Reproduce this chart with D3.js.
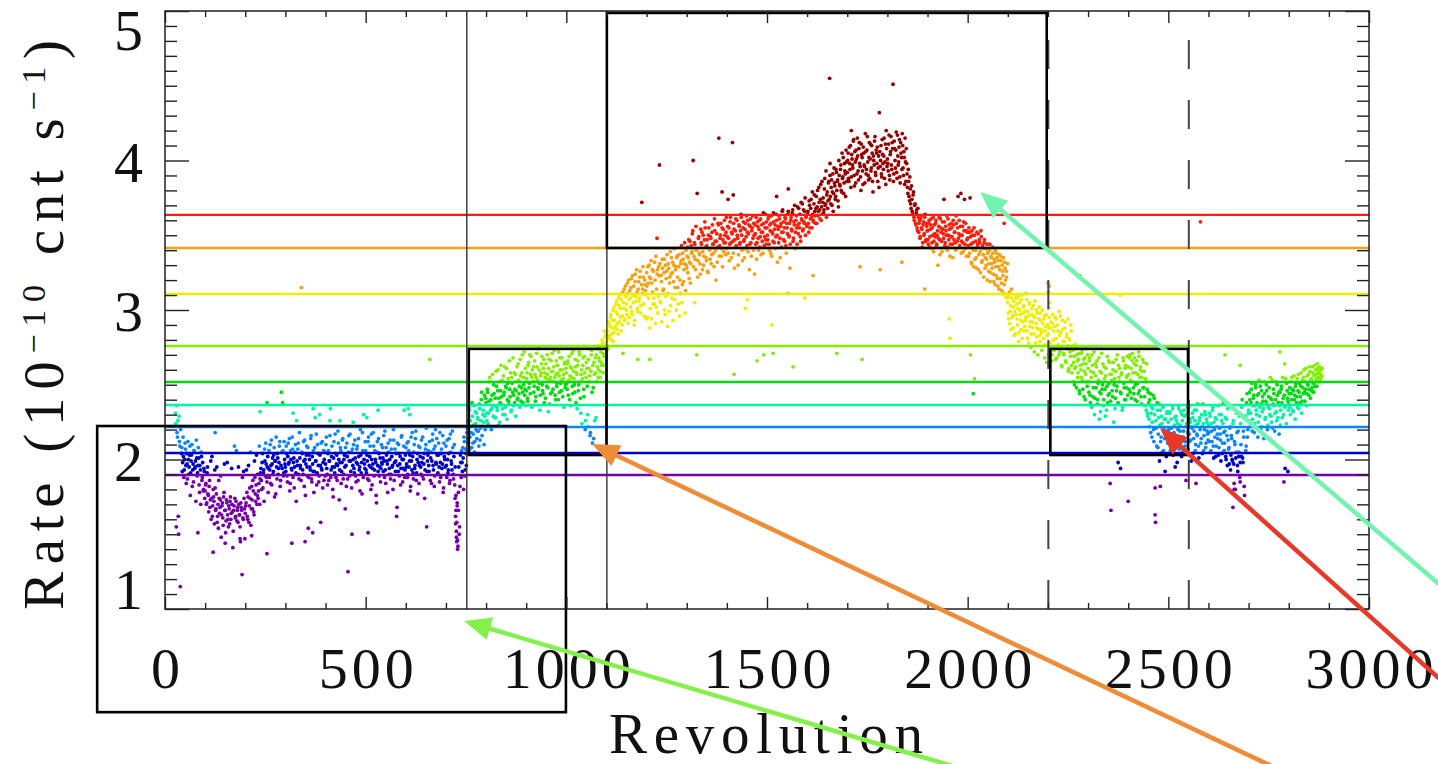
<!DOCTYPE html>
<html>
<head>
<meta charset="utf-8">
<script src="https://cdn.jsdelivr.net/npm/d3@7"></script>
<style>
  body { margin: 0; background: #fff; }
  svg { display: block; }
  text { font-family: "Liberation Serif", "DejaVu Serif", serif; fill: #111; }
</style>
</head>
<body>
<svg id="chart" width="1438" height="764"></svg>
<script>
// ---- data ----
// count rate per revolution, one row per 100 revolutions, a value every 2 revolutions
const revStep = 2;
const rowSpan = 100;
// even revolutions (0, 2, 4 ...)
const ratesEven = [
  [null,null,null,null,null,null,null,null,null,null,null,null,null,2.31,1.55,2.18,2.26,1.50,2.12,1.15,2.22,
   2.08,1.98,2.02,1.93,2.11,1.96,2.04,1.87,2.00,1.95,2.09,1.91,2.03,1.82,1.97,2.06,1.94,1.99,2.13,1.89,1.96,2.01,1.78,1.93,2.05,1.86,1.98,1.80,1.92],
  [1.79,1.84,1.71,1.95,1.76,1.82,1.68,1.99,1.74,1.62,1.80,1.72,1.93,1.66,1.77,1.58,1.70,1.86,1.64,1.73,
   1.48,1.69,1.61,1.75,1.97,1.66,1.59,1.71,1.63,1.55,1.67,1.72,1.60,1.94,1.65,1.52,1.69,1.74,1.62,2.06,
   1.66,1.58,1.70,1.63,1.45,1.68,1.23,1.61,1.92,1.67],
  [1.64,1.71,1.78,1.60,1.96,1.69,1.74,1.56,1.82,1.67,1.79,1.63,1.88,1.72,2.03,1.76,1.74,1.84,1.70,1.91,
   1.86,1.98,1.81,1.93,2.07,1.89,1.97,1.85,2.02,1.94,1.88,2.10,1.96,1.83,2.01,1.92,2.08,1.99,1.77,1.95,
   2.04,1.90,1.98,2.12,1.86,2.45,1.94,2.06,1.91,2.00],
  [1.95,2.09,1.89,2.02,1.97,2.14,1.84,2.00,1.93,2.07,1.98,1.81,2.05,1.91,2.26,1.96,2.11,1.87,2.01,1.94,
   3.15,2.04,1.90,1.99,2.13,1.76,2.03,1.95,2.08,1.88,2.00,1.93,2.16,1.85,1.97,2.06,1.92,2.28,1.99,1.83,
   2.10,1.96,1.89,2.03,1.58,1.94,2.12,1.98,1.86,2.05],
  [1.97,2.15,1.90,2.04,1.86,1.99,2.34,1.93,2.09,1.80,2.01,1.95,2.17,1.88,2.03,1.96,2.11,1.73,1.98,2.06,
   1.92,2.13,1.87,2.00,1.95,2.08,1.82,2.02,1.25,2.16,1.89,1.99,2.05,1.50,1.96,2.10,1.91,2.01,1.85,2.07,
   1.97,2.14,1.93,1.79,2.03,1.98,2.18,1.88,2.00,1.94],
  [2.06,1.91,1.99,2.12,1.86,2.02,1.95,2.17,1.83,1.97,2.09,1.93,2.00,1.76,2.05,1.96,2.14,1.89,2.01,1.94,
   1.98,2.08,1.92,1.99,2.19,1.84,2.03,1.97,2.11,1.90,2.00,1.87,2.07,1.95,1.80,2.13,1.98,1.92,2.04,1.68,
   1.96,2.10,1.89,2.02,1.94,2.16,1.85,2.00,2.33,1.93],
  [2.08,1.97,1.88,2.12,1.95,2.03,1.82,1.99,2.18,1.91,2.05,1.94,2.14,1.86,2.00,1.77,2.09,1.96,2.02,1.90,
   1.98,2.15,1.87,2.04,1.93,2.10,1.55,1.99,2.06,1.92,2.67,2.01,1.84,2.13,1.96,2.07,1.89,2.20,1.97,2.03,
   1.91,2.11,1.85,1.98,2.04,1.94,2.16,1.81,2.02,1.95],
  [2.09,1.88,2.00,1.93,2.14,1.86,2.05,1.97,2.19,1.90,2.02,1.83,1.62,1.48,1.71,1.42,1.95,1.55,2.03,1.88,
   1.98,2.08,1.80,2.12,1.93,2.04,2.18,2.26,2.11,2.33,2.15,2.22,2.08,2.29,2.17,2.36,2.12,2.24,2.31,2.19,
   2.27,2.09,2.34,2.21,2.40,2.16,2.30,2.25,2.43,2.20],
  [2.38,2.26,2.45,2.31,2.52,2.22,2.40,2.34,2.57,2.29,2.44,2.36,2.28,2.49,2.33,2.60,2.41,2.25,2.46,2.37,
   2.53,2.30,2.43,2.62,2.35,2.48,2.27,2.51,2.39,2.66,2.42,2.32,2.55,2.45,2.36,2.58,2.47,2.29,2.52,2.40,
   2.64,2.44,2.35,2.56,2.48,2.70,2.38,2.50,2.43,2.61],
  [2.46,2.58,2.39,2.65,2.51,2.44,2.69,2.55,2.36,2.62,2.49,2.57,2.42,2.71,2.53,2.47,2.60,2.33,2.56,2.64,
   2.50,2.44,2.67,2.58,2.41,2.54,2.70,2.48,2.61,2.37,2.55,2.66,2.45,2.59,2.52,2.73,2.43,2.57,2.49,2.63,
   2.40,2.56,2.68,2.51,2.46,2.60,2.54,2.35,2.65,2.50],
  [2.58,2.47,2.66,2.53,2.40,2.62,2.55,2.71,2.44,2.59,2.50,2.67,2.38,2.57,2.63,2.46,2.72,2.52,2.31,2.60,
   2.54,2.68,2.42,2.58,2.26,2.65,2.49,2.22,2.61,2.56,2.18,2.70,2.45,2.63,2.14,2.57,2.68,2.28,2.52,2.74,
   2.60,2.66,2.55,2.72,2.63,2.78,2.58,2.69,2.82,2.75],
  [2.79,2.86,2.74,2.91,2.83,2.95,2.80,2.88,3.00,2.85,2.93,2.89,3.04,2.87,2.97,3.08,2.92,3.01,2.86,3.11,
   2.96,3.05,3.14,2.94,3.09,3.00,3.18,2.91,3.07,3.13,3.02,3.21,2.97,3.10,3.16,2.93,3.24,3.06,3.12,2.99,
   3.19,3.08,3.26,3.03,3.72,3.14,3.22,2.96,3.17,3.10],
  [3.25,2.95,3.18,3.30,2.88,3.21,2.94,3.27,3.04,3.08,3.32,2.91,3.02,3.24,2.98,3.29,3.97,3.06,3.23,2.92,
   3.28,3.14,3.34,2.97,3.09,3.26,2.89,3.31,2.99,3.22,3.03,3.35,3.25,2.93,3.30,3.07,3.27,3.00,3.36,3.15,
   3.29,2.96,3.11,3.33,3.05,3.38,3.19,3.31,2.98,3.40],
  [3.28,3.42,3.35,3.21,3.46,3.31,3.38,3.51,4.00,3.36,3.44,3.27,3.40,3.78,3.33,3.49,3.37,3.24,3.45,3.52,
   3.39,3.30,3.47,3.55,3.35,3.43,3.26,3.50,3.41,3.34,3.48,3.37,3.57,3.44,3.29,3.53,3.40,3.46,3.32,3.58,
   4.15,3.43,3.50,3.36,3.55,3.47,3.39,3.60,3.45,3.52],
  [3.41,3.56,3.48,3.33,3.59,3.45,3.52,4.12,3.38,3.54,3.47,3.61,3.42,3.50,3.30,3.57,3.44,3.53,3.62,3.40,
   3.55,3.46,3.35,3.58,3.49,3.43,3.60,3.51,3.27,3.56,3.45,3.53,3.63,3.40,3.50,3.57,3.44,3.34,3.59,3.48,
   3.54,3.42,3.61,3.52,3.46,3.38,3.58,3.49,3.64,3.44],
  [3.55,3.47,3.62,3.40,3.53,3.58,3.36,3.51,3.65,3.45,3.57,3.49,3.60,3.32,3.54,3.63,3.48,3.56,3.42,3.66,
   3.52,3.59,3.46,3.61,3.38,3.55,3.64,3.50,3.58,3.44,3.62,3.53,3.67,3.48,3.57,3.41,3.60,3.55,3.69,3.51,
   3.58,3.64,3.46,3.61,3.71,3.54,3.59,3.66,3.50,3.63],
  [3.57,3.66,3.52,3.70,3.61,3.74,3.55,3.64,3.59,3.77,3.63,3.68,3.58,3.80,3.66,3.72,3.61,3.84,3.69,3.64,
   3.75,3.67,3.88,3.71,3.62,3.79,3.73,3.86,4.55,3.76,3.82,3.70,3.91,3.78,3.85,3.74,3.94,3.80,3.87,3.69,
   3.90,3.83,3.97,3.79,3.88,4.02,3.85,3.93,3.76,3.99],
  [3.92,4.05,3.86,3.98,4.10,3.89,4.01,3.95,4.14,3.83,3.99,4.07,3.91,4.03,3.87,4.12,3.96,3.80,4.04,3.93,
   4.09,3.97,3.85,4.06,3.94,4.16,3.90,4.02,3.88,4.11,3.95,4.05,3.79,4.00,4.13,3.92,4.07,3.98,3.86,4.03,
   4.32,3.96,4.10,3.89,4.04,3.94,4.15,3.99,3.84,4.08],
  [4.01,3.93,4.17,3.87,4.06,3.97,4.12,4.51,3.91,4.08,3.95,4.19,3.88,4.03,3.99,4.14,3.85,4.05,3.94,4.10,
   3.90,4.02,4.15,3.86,3.98,3.82,3.94,3.76,3.89,3.71,3.83,3.66,3.77,3.62,3.70,3.58,3.65,3.55,3.68,3.52,
   3.60,3.49,3.63,3.54,3.45,3.59,3.51,3.64,3.47,3.56],
  [3.53,3.44,3.60,3.49,3.57,3.41,3.55,3.62,3.46,3.51,3.58,3.43,3.50,3.30,3.56,3.47,3.61,3.52,3.39,3.54,
   3.48,3.59,3.45,3.53,3.63,3.42,3.50,3.57,3.36,3.49,3.55,3.44,3.60,3.47,3.52,3.40,3.58,3.46,3.76,3.51,
   3.43,3.56,3.38,3.50,3.45,3.59,3.74,3.41,3.53,3.47],
  [3.48,3.36,3.52,3.75,3.44,3.31,3.50,3.40,3.55,3.34,3.46,3.28,3.42,3.51,3.37,3.45,3.25,3.49,3.33,3.41,
   3.22,3.47,3.35,3.30,3.44,3.38,3.26,3.40,3.19,3.36,3.31,3.42,3.24,3.34,3.17,3.29,3.38,3.21,3.33,3.14,
   3.27,3.36,3.18,3.30,3.23,3.11,3.32,3.20,3.26,3.08],
  [3.05,2.94,3.12,2.99,2.87,3.08,2.96,3.02,2.83,3.10,2.97,3.04,2.90,3.09,2.85,3.00,2.93,3.07,2.81,2.98,
   3.03,2.89,2.95,3.11,2.86,2.99,2.78,3.05,2.92,2.84,3.01,2.88,2.96,2.72,3.06,2.91,2.82,2.98,2.87,3.02,
   2.79,2.93,2.85,3.00,2.76,2.94,2.68,2.89,2.97,2.83],
  [3.18,2.64,3.05,2.78,2.92,2.70,2.97,2.86,2.75,2.95,2.81,2.68,2.90,2.77,2.99,2.72,2.85,2.63,2.93,2.79,
   2.70,2.88,2.66,2.82,2.74,2.94,2.61,2.80,2.69,2.86,2.58,2.73,2.65,2.50,2.77,2.62,2.70,2.55,2.67,2.46,
   3.23,2.60,2.71,2.53,2.64,2.42,2.68,2.57,2.74,2.49],
  [2.61,2.45,2.68,2.38,2.55,2.70,2.42,2.58,2.30,2.64,2.48,2.66,2.40,2.53,2.27,2.59,2.44,2.71,2.50,2.36,
   2.62,2.47,2.56,2.33,2.69,2.43,2.51,2.65,2.39,2.57,2.46,2.60,2.25,2.54,2.41,2.67,2.49,2.37,2.63,2.52,
   3.10,2.44,2.58,2.35,2.66,2.48,2.61,2.40,2.55,2.69],
  [2.62,2.47,2.70,2.53,2.41,2.66,2.58,2.44,2.68,2.50,2.63,2.39,2.57,2.72,2.46,2.60,2.42,2.55,2.67,2.48,
   2.59,2.36,2.52,2.64,2.31,2.45,2.27,2.40,2.18,2.35,2.25,2.43,2.12,2.30,1.58,2.21,2.38,2.08,2.28,1.99,
   2.33,2.15,2.24,2.36,2.06,2.27,1.92,2.19,2.31,2.11],
  [2.25,2.14,2.32,2.08,2.21,2.36,2.03,2.18,2.28,2.11,2.26,1.98,2.20,2.34,2.09,2.23,2.15,2.30,2.05,2.19,
   2.29,2.12,1.86,2.24,2.35,2.07,2.17,2.27,2.13,2.22,2.31,2.04,2.19,2.26,2.10,2.33,2.16,2.24,2.01,2.28,
   3.59,2.14,2.22,2.37,2.06,2.20,2.30,2.11,2.25,2.17],
  [2.23,2.12,2.29,2.06,2.19,2.33,2.09,2.25,2.15,2.02,2.27,2.17,2.36,2.08,2.21,2.13,2.30,2.04,2.24,2.18,
   2.11,2.28,2.00,2.16,2.34,2.07,1.97,2.22,2.03,2.14,1.99,2.26,1.84,2.10,2.01,2.31,1.96,2.19,2.05,1.88,
   2.24,2.02,2.40,1.98,2.15,1.76,2.29,2.09,2.44,2.20],
  [2.33,2.45,2.22,2.38,2.51,2.27,2.41,2.18,2.36,2.48,2.30,2.43,2.25,2.53,2.35,2.20,2.46,2.32,2.39,2.14,
   2.44,2.28,2.50,2.37,2.23,2.42,2.34,2.55,2.29,2.40,2.21,2.47,2.36,2.31,2.52,2.26,2.43,2.38,2.17,2.45,
   2.33,2.49,2.28,2.41,1.85,2.35,2.54,2.24,2.46,2.39],
  [2.37,2.48,2.30,2.44,2.55,2.33,2.46,2.40,2.27,2.51,2.42,2.35,2.57,2.45,2.38,2.49,2.31,2.53,2.44,2.60,
   2.39,2.47,2.36,2.56,2.50,2.43,2.62,2.41,2.54,2.48,2.58,2.45,2.63,2.52,2.57,2.49,2.61,2.55,2.59,2.53,
   2.60,2.56,null,null,null,null,null,null,null,null]
];
// odd revolutions (1, 3, 5 ...)
const ratesOdd = [
  [null,null,null,null,null,null,null,null,null,null,null,null,null,2.24,2.36,2.15,1.62,2.29,2.09,2.20,
   2.04,1.92,2.15,1.88,2.00,2.07,1.84,1.97,2.12,1.90,2.03,1.76,1.99,2.10,1.93,1.85,2.06,1.95,1.72,2.01,
   1.91,2.08,1.83,1.96,1.70,2.02,1.88,1.79,1.94,1.74],
  [1.83,1.70,1.91,1.77,1.65,1.86,1.73,1.60,2.02,1.69,1.75,1.57,1.81,1.67,1.95,1.62,1.54,1.74,1.68,1.89,
   1.63,1.71,1.56,1.78,1.66,1.51,1.73,1.98,1.60,1.69,1.57,1.75,1.64,1.70,1.41,1.66,2.09,1.61,1.72,1.59,
   1.68,1.95,1.63,1.55,1.71,1.66,1.88,1.60,1.74,1.47],
  [1.69,1.93,1.62,1.75,1.58,1.81,2.05,1.67,1.73,1.86,1.65,1.99,1.77,1.83,1.70,1.90,1.79,2.09,1.87,1.94,
   1.80,2.04,1.91,1.72,1.99,2.11,1.88,1.95,1.78,2.06,1.93,1.84,2.13,1.97,1.90,2.03,1.75,1.99,2.15,1.87,
   2.01,1.94,2.09,1.82,1.96,2.05,2.38,1.89,2.12,1.97],
  [1.92,2.04,1.85,2.11,1.98,1.79,2.06,1.94,2.15,1.88,2.01,1.95,2.10,1.72,1.99,2.07,1.90,2.18,1.96,1.86,
   2.05,1.93,2.12,1.82,2.00,1.97,2.09,1.89,1.54,2.03,1.95,2.14,1.87,2.02,1.92,1.78,2.08,1.99,2.17,1.91,
   2.04,1.85,2.30,1.96,2.11,1.93,1.81,2.06,2.00,1.89],
  [2.10,1.94,1.83,2.06,1.99,2.16,1.88,2.02,1.95,1.75,2.12,1.91,2.04,1.97,1.86,2.19,2.00,1.93,2.08,1.84,
   1.98,2.14,1.90,2.03,1.67,1.96,2.11,1.87,2.05,1.99,2.17,1.92,1.81,2.07,2.00,1.94,2.13,1.89,1.98,2.09,
   1.86,2.02,1.95,2.20,1.91,1.77,2.06,2.30,1.97,2.12],
  [1.93,2.03,1.87,2.15,1.96,2.09,1.80,2.00,1.94,2.18,1.89,2.06,1.98,1.71,2.12,1.92,2.04,1.95,1.85,2.10,
   1.97,2.01,2.16,1.88,1.93,2.08,1.99,1.78,2.05,1.94,2.13,1.90,2.02,1.96,2.20,1.86,2.07,1.99,1.62,2.11,
   1.92,2.04,1.97,1.83,2.15,2.00,1.94,2.09,1.88,2.03],
  [1.95,2.11,1.90,2.06,1.99,1.79,2.15,1.93,2.02,1.87,2.10,1.96,2.19,1.91,2.04,1.98,1.84,2.08,1.95,2.13,
   1.89,2.01,1.97,1.74,2.07,2.21,1.92,2.03,1.96,2.12,1.86,2.05,1.99,2.17,1.93,1.82,2.09,1.98,2.14,1.90,
   2.03,1.95,2.18,1.88,2.07,1.97,1.78,2.11,2.00,2.22],
  [1.96,2.13,1.91,2.04,1.84,2.17,1.99,1.93,2.08,1.87,2.10,1.95,1.76,1.58,1.46,1.66,1.50,1.82,1.98,2.06,
   1.92,2.01,2.15,1.89,2.07,1.96,2.21,2.14,2.35,2.07,2.26,2.18,2.38,2.11,2.23,2.05,2.32,2.20,2.14,2.28,
   2.19,2.37,2.13,2.26,2.45,2.22,2.33,2.10,2.29,2.41],
  [2.31,2.47,2.24,2.39,2.55,2.33,2.20,2.43,2.36,2.50,2.28,2.41,2.59,2.35,2.46,2.23,2.52,2.38,2.63,2.42,
   2.34,2.56,2.45,2.30,2.49,2.61,2.40,2.54,2.37,2.47,2.58,2.33,2.51,2.68,2.43,2.38,2.57,2.46,2.62,2.41,
   2.53,2.49,2.67,2.39,2.58,2.45,2.55,2.72,2.47,2.36],
  [2.54,2.41,2.63,2.48,2.70,2.57,2.35,2.60,2.52,2.45,2.66,2.39,2.55,2.62,2.48,2.74,2.51,2.43,2.58,2.69,
   2.46,2.61,2.38,2.55,2.64,2.49,2.57,2.32,2.67,2.53,2.44,2.59,2.71,2.47,2.62,2.55,2.40,2.66,2.51,2.58,
   2.72,2.45,2.60,2.53,2.68,2.42,2.57,2.64,2.48,2.61],
  [2.51,2.64,2.43,2.69,2.56,2.36,2.61,2.49,2.73,2.54,2.45,2.62,2.58,2.34,2.66,2.50,2.70,2.41,2.57,2.24,
   2.63,2.47,2.69,2.20,2.55,2.61,2.30,2.67,2.52,2.16,2.59,2.73,2.11,2.48,2.65,2.26,2.58,2.70,2.62,2.55,
   2.68,2.76,2.59,2.65,2.80,2.71,2.63,2.86,2.77,2.84],
  [2.83,2.76,2.92,2.81,2.89,2.97,2.84,2.93,2.79,3.02,2.88,2.99,3.06,2.91,2.84,3.03,3.10,2.95,3.07,2.90,
   3.12,3.01,2.93,3.16,3.04,2.97,3.11,3.20,2.95,3.08,3.15,2.99,3.23,3.05,2.90,3.19,3.09,3.27,3.01,3.14,
   3.06,3.22,2.98,3.17,3.11,3.29,3.04,3.20,3.13,2.94],
  [3.16,3.29,3.08,3.22,3.01,3.33,3.18,3.12,3.26,3.04,3.20,3.36,3.14,3.27,3.09,3.23,3.31,3.05,3.19,3.34,
   3.13,3.25,3.00,3.30,3.21,3.37,3.11,3.28,3.18,3.39,3.24,3.08,3.32,3.19,3.41,3.15,3.29,3.35,3.22,3.04,
   3.37,3.20,3.31,3.43,3.17,3.34,3.27,3.45,3.13,3.30],
  [3.36,3.25,3.47,3.32,3.18,3.43,3.39,3.53,3.29,3.45,3.34,3.56,3.41,3.22,3.48,3.38,3.31,3.54,3.44,3.27,
   3.50,3.36,3.59,3.42,3.33,3.47,3.25,3.55,3.40,3.49,3.31,3.52,3.44,3.38,3.61,3.46,3.20,3.51,3.42,3.57,
   3.36,3.48,3.58,3.41,3.29,3.54,3.45,3.50,3.37,3.62],
  [3.49,3.38,3.55,3.44,3.62,3.35,3.51,3.46,3.58,3.28,3.53,3.43,3.60,3.48,3.37,3.56,3.45,3.64,3.50,3.33,
   3.59,3.47,3.54,3.41,3.63,3.52,3.39,3.57,3.44,3.61,3.36,3.55,3.48,3.58,3.24,3.51,3.62,3.45,3.56,3.40,
   3.60,3.49,3.37,3.57,3.52,3.65,3.43,3.55,3.47,3.59],
  [3.50,3.61,3.44,3.57,3.38,3.63,3.52,3.46,3.59,3.54,3.41,3.64,3.50,3.56,3.45,3.61,3.35,3.58,3.52,3.67,
   3.47,3.55,3.62,3.43,3.58,3.51,3.66,3.49,3.28,3.60,3.54,3.65,3.46,3.59,3.70,3.52,3.63,3.44,3.57,3.68,
   3.55,3.49,3.72,3.60,3.53,3.67,3.58,3.75,3.62,3.56],
  [3.64,3.58,3.73,3.55,3.68,3.62,3.79,3.60,3.71,3.66,3.58,3.76,3.69,3.63,3.82,3.67,3.74,3.60,3.86,3.72,
   3.65,3.81,3.70,3.93,3.77,3.68,3.85,3.74,3.90,3.71,3.87,3.79,3.66,3.95,3.83,3.76,3.92,3.86,3.73,4.00,
   3.84,3.94,3.80,4.05,3.89,3.78,3.98,3.91,4.07,3.86],
  [4.00,3.88,4.09,3.94,3.82,4.04,3.97,4.13,3.90,4.06,3.85,4.01,4.15,3.93,4.08,3.98,3.89,4.11,4.02,3.84,
   4.05,3.96,4.18,3.91,4.07,3.99,3.87,4.12,4.01,3.93,4.10,3.86,4.03,3.97,4.16,3.90,4.05,4.09,3.95,3.82,
   4.06,4.00,3.91,4.14,3.98,4.03,3.88,4.11,4.20,3.96],
  [3.98,4.11,3.90,4.04,4.16,3.94,4.08,3.86,4.13,4.00,4.07,3.92,4.17,3.97,4.09,3.89,4.12,4.02,4.18,3.95,
   4.06,3.84,3.99,4.08,3.91,3.78,3.86,3.73,3.81,3.68,3.74,3.64,3.79,3.60,3.71,3.57,3.67,3.53,3.62,3.58,
   3.48,3.61,3.55,3.42,3.57,3.50,3.62,3.46,3.58,3.53],
  [3.47,3.58,3.42,3.54,3.61,3.45,3.50,3.39,3.57,3.49,3.60,3.44,3.53,3.48,3.62,3.37,3.55,3.46,3.59,3.51,
   3.74,3.43,3.56,3.50,3.40,3.61,3.47,3.54,3.44,3.58,3.49,3.35,3.57,3.52,3.45,3.63,3.41,3.55,3.48,3.60,
   3.50,3.78,3.46,3.56,3.39,3.53,3.44,3.58,3.36,3.52],
  [3.43,3.55,3.38,3.49,3.32,3.53,3.45,3.29,3.50,3.40,3.35,3.52,3.44,3.27,3.47,3.39,3.53,3.32,3.43,3.37,
   3.45,3.28,3.41,3.34,3.20,3.39,3.31,3.44,3.25,3.35,3.28,3.38,3.19,3.32,3.40,3.23,3.35,3.16,3.29,3.37,
   3.21,3.33,3.13,3.26,3.35,3.17,3.28,3.09,3.22,3.31],
  [2.98,3.09,2.91,3.03,3.14,2.95,2.88,3.06,2.99,2.84,3.08,2.94,3.01,2.79,3.05,2.97,2.87,3.10,2.92,3.02,
   2.86,2.99,2.93,3.07,2.81,2.96,3.04,2.89,2.75,2.97,2.92,3.03,2.84,2.95,2.78,3.00,2.88,2.70,2.94,2.83,
   2.98,2.87,2.73,2.91,2.81,2.96,2.86,2.77,2.65,2.90],
  [2.84,2.95,2.72,2.88,2.66,2.91,2.80,2.73,2.89,2.67,2.94,2.76,2.86,2.70,2.83,2.96,2.74,2.62,2.87,2.71,
   2.79,2.92,2.65,2.84,2.76,2.59,2.81,2.72,2.90,2.63,2.76,2.52,2.69,2.61,2.74,2.48,2.66,2.58,2.71,2.44,
   2.63,2.55,2.73,2.47,2.67,2.59,2.40,2.64,2.52,2.70],
  [2.52,2.66,2.43,2.59,2.35,2.63,2.48,2.72,2.41,2.56,2.62,2.37,2.51,2.68,2.45,2.32,2.58,2.47,2.64,2.40,
   2.54,2.29,2.61,2.49,2.38,2.66,2.44,2.57,1.66,2.53,2.42,2.65,2.50,2.34,2.59,2.46,2.70,2.38,2.55,2.61,
   2.45,2.57,2.33,2.68,2.51,2.40,2.63,2.48,2.56,2.43],
  [2.57,2.68,2.45,2.61,2.52,2.71,2.48,2.64,2.40,2.58,2.66,2.51,2.44,2.69,2.55,2.62,2.37,2.59,2.48,2.65,
   2.42,2.54,2.33,2.47,2.29,2.38,2.22,2.44,2.31,2.15,2.34,2.20,2.41,1.63,2.26,2.09,2.33,2.17,2.37,2.23,
   2.12,2.29,2.05,2.35,2.21,2.14,2.27,2.02,2.32,2.18],
  [2.20,2.31,2.06,2.27,2.16,2.34,2.10,2.23,1.95,2.29,2.13,2.24,2.36,2.07,2.19,2.32,2.02,2.26,2.15,2.33,
   2.09,2.22,2.30,2.04,2.18,2.35,2.12,2.25,1.99,2.21,2.28,2.14,2.33,2.06,2.23,2.17,2.37,2.09,2.26,2.20,
   2.11,2.30,2.04,2.24,2.16,2.32,2.08,2.27,2.19,2.13],
  [2.18,2.31,2.05,2.24,2.12,2.35,2.01,2.20,2.28,2.09,2.22,2.14,2.03,2.30,2.17,1.99,2.26,2.11,2.38,2.06,
   2.19,2.02,2.27,1.96,2.13,2.08,2.21,1.93,2.16,2.00,2.24,1.97,2.12,1.80,2.05,2.18,1.92,2.02,2.29,1.98,
   2.10,2.35,2.01,2.19,1.82,2.27,2.06,2.38,2.15,2.31],
  [2.26,2.40,2.31,2.47,2.19,2.36,2.43,2.24,2.50,2.33,2.38,2.15,2.44,2.29,2.49,2.37,2.22,2.42,2.34,2.52,
   2.27,2.39,2.46,2.20,2.35,2.48,2.30,2.41,2.25,2.53,2.37,2.44,2.19,2.40,2.32,2.50,2.28,2.45,2.36,2.23,
   2.47,2.38,2.55,2.30,2.43,1.94,2.36,2.51,2.41,2.33],
  [2.44,2.35,2.52,2.40,2.47,2.32,2.56,2.43,2.49,2.38,2.54,2.46,2.34,2.51,2.42,2.58,2.39,2.48,2.55,2.45,
   2.52,2.61,2.44,2.50,2.57,2.47,2.59,2.53,2.46,2.62,2.51,2.56,2.49,2.60,2.54,2.64,2.58,2.52,2.62,2.57,
   2.55,2.61,null,null,null,null,null,null,null,null]
];
// extra samples inside the two short vertical streaks (rev 725, rev 2202)
const streakPoints = [
  [723, 1.74], [724, 1.57], [725, 1.66], [726, 1.52], [727, 1.45], [728, 1.69], [729, 1.40], [731, 1.78],
  [2201, 2.70], [2202, 2.88], [2201, 3.12], [2203, 2.62], [2202, 3.01], [2203, 3.16]
];
// isolated points away from the main band
const strayPoints = [
  [1226, 3.48], [1388, 3.79], [1403, 3.74], [1416, 3.77], [1524, 3.76], [1553, 3.81], [1657, 3.98], [1710, 4.20],
  [2091, 3.58], [1512, 2.90], [1446, 3.01], [1451, 3.07], [1553, 3.11], [1615, 3.23], [1732, 3.29], [1782, 3.27],
  [1836, 3.32], [1893, 3.14], [1954, 2.94], [1956, 2.81], [2007, 2.70], [2017, 2.54], [2014, 2.44], [1674, 2.71],
  [1737, 2.67], [1565, 2.62], [1515, 2.71], [1475, 2.66], [1418, 2.57], [1325, 2.70], [1208, 2.67], [1178, 2.67],
  [1141, 2.71], [1492, 2.70], [1320, 3.05], [1594, 3.08],
  [237, 2.32], [254, 2.38], [319, 2.31], [369, 2.34], [411, 2.26], [436, 2.26], [469, 2.25], [503, 2.28],
  [531, 2.33], [606, 2.34], [610, 2.30], [125, 2.18],
  [82, 1.51], [120, 1.38], [150, 1.44], [187, 1.47], [216, 1.49], [254, 1.37], [316, 1.44], [349, 1.45],
  [368, 1.51], [506, 1.51],
  [2400, 1.72], [2355, 1.84], [2375, 1.98], [2381, 1.94], [2467, 1.81], [2480, 1.82], [2569, 1.84],
  [2661, 1.68], [2664, 1.80], [2679, 1.85], [2798, 1.92], [2811, 2.00],
  [2679, 2.63], [2778, 2.72], [2641, 2.70], [2790, 2.64]
];

// colour bands: a point takes the colour of the first line above it
const bandEdges = [1.896, 2.043, 2.217, 2.365, 2.518, 2.759, 3.107, 3.415, 3.636];
const bandColors = ["#7400aa", "#0000cc", "#0a84ff", "#00f5a2", "#00dc10", "#80f000",
                    "#eeee00", "#f6a012", "#ff1c08", "#980000"];

const xTickLabels = [0, 500, 1000, 1500, 2000, 2500, 3000];
const yTickLabels = [1, 2, 3, 4, 5];

// boxes in data units: [rev0, rev1, rate0, rate1]
const boxes = [
  [-169, 999, 0.31, 2.224],
  [757, 1100, 2.03, 2.74],
  [1101, 2197, 3.415, 4.987],
  [2206, 2549, 2.03, 2.74]
];
const solidRevs = [752, 1101];
const dashedRevs = [2201, 2551];

// arrows coming in from the neighbouring panels: [revFrom, rateFrom, revTo, rateTo, colour]
const arrows = [
  [2050, -0.12, 745, 0.92, "#84f04c"],
  [2780, -0.08, 1064, 2.104, "#ef8c38"],
  [3260, 0.97, 2031, 3.789, "#74f2b0"],
  [3260, 0.33, 2479, 2.211, "#e8382a"]
];

// ---- layout ----
const plot = { left: 165, right: 1369, top: 11, bottom: 609 };
const svg = d3.select("#chart");

const x = d3.scaleLinear().domain([0, 3000]).range([plot.left, plot.right]);
const y = d3.scaleLinear().domain([1, 5]).range([plot.bottom, plot.top]);
const color = d3.scaleThreshold().domain(bandEdges).range(bandColors);

const points = [];
[[ratesEven, 0], [ratesOdd, 1]].forEach(([rows, offset]) => {
  rows.forEach((row, i) => {
    row.forEach((v, j) => {
      if (v != null) points.push({ rev: i * rowSpan + offset + j * revStep, rate: v });
    });
  });
});
streakPoints.concat(strayPoints).forEach(([rev, rate]) => points.push({ rev, rate }));

// points
svg.append("g")
  .selectAll("circle")
  .data(points)
  .join("circle")
    .attr("cx", d => x(d.rev))
    .attr("cy", d => y(d.rate))
    .attr("r", 1.9)
    .attr("fill", d => color(d.rate));

// threshold lines
svg.append("g")
  .selectAll("line")
  .data(bandEdges)
  .join("line")
    .attr("x1", plot.left).attr("x2", plot.right)
    .attr("y1", d => y(d)).attr("y2", d => y(d))
    .attr("stroke", (d, i) => bandColors[i])
    .attr("stroke-width", 2.4);

// vertical markers
svg.append("g")
  .selectAll("line")
  .data(solidRevs)
  .join("line")
    .attr("x1", d => x(d)).attr("x2", d => x(d))
    .attr("y1", plot.top).attr("y2", plot.bottom)
    .attr("stroke", "#333").attr("stroke-width", 1.4);

svg.append("g")
  .selectAll("line")
  .data(dashedRevs)
  .join("line")
    .attr("x1", d => x(d)).attr("x2", d => x(d))
    .attr("y1", plot.bottom).attr("y2", plot.top)
    .attr("stroke", "#444").attr("stroke-width", 2)
    .attr("stroke-dasharray", "29,31");

// boxes
svg.append("g")
  .selectAll("rect")
  .data(boxes)
  .join("rect")
    .attr("x", d => x(d[0]))
    .attr("y", d => y(d[3]))
    .attr("width", d => x(d[1]) - x(d[0]))
    .attr("height", d => y(d[2]) - y(d[3]))
    .attr("fill", "none")
    .attr("stroke", "#000")
    .attr("stroke-width", 2.6);

// frame and ticks
svg.append("rect")
  .attr("x", plot.left).attr("y", plot.top)
  .attr("width", plot.right - plot.left).attr("height", plot.bottom - plot.top)
  .attr("fill", "none").attr("stroke", "#111").attr("stroke-width", 1.4);

const xMinor = d3.range(0, 3001, 100).filter(v => v % 500 !== 0);
const yMinor = d3.range(1, 5.001, 0.1).filter(v => Math.abs(v - Math.round(v)) > 1e-6);

function tickAxis(axis, translate, values, size, labels) {
  const g = svg.append("g")
    .attr("transform", translate)
    .call(axis.tickValues(values).tickSizeInner(-size).tickSizeOuter(0)
      .tickFormat(labels ? d3.format("d") : ""));
  g.select(".domain").remove();
  g.selectAll(".tick line").attr("stroke", "#222").attr("stroke-width", 1.4);
  return g;
}

tickAxis(d3.axisBottom(x), `translate(0,${plot.bottom})`, xMinor, 6, false);
tickAxis(d3.axisTop(x), `translate(0,${plot.top})`, xMinor, 6, false);
tickAxis(d3.axisTop(x), `translate(0,${plot.top})`, xTickLabels, 12, false);
tickAxis(d3.axisLeft(y), `translate(${plot.left},0)`, yMinor, 12, false);
tickAxis(d3.axisRight(y), `translate(${plot.right},0)`, yMinor, 12, false);
tickAxis(d3.axisRight(y), `translate(${plot.right},0)`, yTickLabels, 24, false);

const xAxis = tickAxis(d3.axisBottom(x), `translate(0,${plot.bottom})`, xTickLabels, 12, true);
xAxis.selectAll(".tick text")
  .attr("y", 79).attr("dy", 0).attr("dx", 2)
  .attr("font-size", 58).attr("letter-spacing", 4)
  .attr("fill", "#111");

const yAxis = tickAxis(d3.axisLeft(y), `translate(${plot.left},0)`, yTickLabels, 24, true);
yAxis.selectAll(".tick text")
  .attr("x", -22).attr("dx", 0)
  .attr("dy", d => {
    // keep the end labels inside the frame height
    const base = y(d) + 20.5;
    const clamped = Math.max(plot.top + 38, Math.min(plot.bottom - 1, base));
    return clamped - y(d);
  })
  .attr("font-size", 58)
  .attr("fill", "#111");

// axis titles
svg.append("text")
  .attr("x", 766).attr("y", 753)
  .attr("text-anchor", "middle")
  .attr("font-size", 57)
  .attr("textLength", 314).attr("lengthAdjust", "spacing")
  .text("Revolution");

const yTitle = svg.append("text")
  .attr("transform", "translate(63,325) rotate(-90)")
  .attr("text-anchor", "middle")
  .attr("font-size", 57)
  .attr("textLength", 570).attr("lengthAdjust", "spacing");
yTitle.append("tspan").text("Rate (10");
yTitle.append("tspan").attr("dy", -18).attr("font-size", 34).text("\u221210");
yTitle.append("tspan").attr("dy", 18).text(" cnt s");
yTitle.append("tspan").attr("dy", -18).attr("font-size", 34).text("\u22121");
yTitle.append("tspan").attr("dy", 18).text(")");

// arrows
const headLen = 27, headHalf = 11.5;
const arrowG = svg.append("g");
arrows.forEach(([r0, v0, r1, v1, c]) => {
  const x0 = x(r0), y0 = y(v0), x1 = x(r1), y1 = y(v1);
  const len = Math.hypot(x1 - x0, y1 - y0);
  const ux = (x1 - x0) / len, uy = (y1 - y0) / len;
  const bx = x1 - ux * headLen, by = y1 - uy * headLen;
  arrowG.append("line")
    .attr("x1", x0).attr("y1", y0)
    .attr("x2", bx + ux * 4).attr("y2", by + uy * 4)
    .attr("stroke", c).attr("stroke-width", 4.5);
  arrowG.append("polygon")
    .attr("points", [
      [x1, y1],
      [bx - uy * headHalf, by + ux * headHalf],
      [bx + uy * headHalf, by - ux * headHalf]
    ].map(p => p.join(",")).join(" "))
    .attr("fill", c);
});
</script>
</body>
</html>
